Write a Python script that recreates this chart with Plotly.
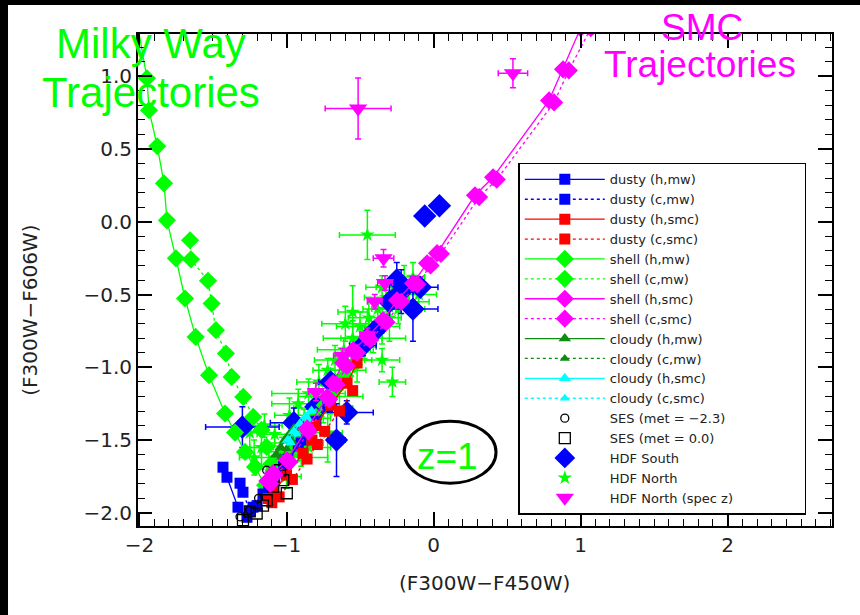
import plotly.graph_objects as go

# ---------------- data ----------------
# shell trajectories (Milky Way dust)
shell_h_mw_x = [-2.03, -1.949, -1.935, -1.879, -1.833, -1.813, -1.752, -1.690, -1.618, -1.527, -1.418, -1.350, -1.282, -1.214, -1.146, -1.10, -1.02, -0.93, -0.84, -0.74, -0.64, -0.54]
shell_h_mw_y = [1.45, 0.986, 0.766, 0.519, 0.264, 0.010, -0.251, -0.527, -0.791, -1.054, -1.317, -1.448, -1.581, -1.684, -1.810, -1.80, -1.67, -1.53, -1.40, -1.26, -1.12, -0.98]
shell_c_mw_x = [-1.656, -1.650, -1.534, -1.509, -1.480, -1.412, -1.373, -1.294, -1.226, -1.17, -1.135, -1.10, -1.06, -0.98, -0.89, -0.80, -0.70, -0.60]
shell_c_mw_y = [-0.127, -0.258, -0.405, -0.562, -0.745, -0.905, -1.066, -1.203, -1.341, -1.43, -1.547, -1.66, -1.72, -1.60, -1.47, -1.34, -1.20, -1.06]
# shell trajectories (SMC dust)
shell_h_smc_x = [1.00, 0.881, 0.786, 0.405, 0.282, 0.024, -0.044, -0.139, -0.248, -0.343, -0.452, -0.547, -0.615, -0.683, -0.724, -0.86, -0.997, -1.092, -1.13]
shell_h_smc_y = [1.33, 1.047, 0.834, 0.306, 0.182, -0.216, -0.285, -0.422, -0.539, -0.676, -0.793, -0.882, -0.971, -1.109, -1.205, -1.42, -1.638, -1.727, -1.78]
shell_c_smc_x = [1.07, 0.92, 0.82, 0.43, 0.31, 0.05, -0.02, -0.11, -0.22, -0.32, -0.43, -0.52, -0.59, -0.66, -0.71, -0.85, -0.98, -1.08, -1.11]
shell_c_smc_y = [1.33, 1.04, 0.82, 0.29, 0.17, -0.22, -0.30, -0.43, -0.55, -0.69, -0.81, -0.90, -0.99, -1.12, -1.22, -1.44, -1.65, -1.74, -1.80]
# dusty trajectories
dusty_h_mw_x = [-1.432, -1.405, -1.33, -1.269, -1.20, -1.12, -1.02, -0.92, -0.82, -0.72]
dusty_h_mw_y = [-1.686, -1.755, -1.961, -2.030, -1.95, -1.83, -1.68, -1.54, -1.40, -1.27]
dusty_c_mw_x = [-1.316, -1.296, -1.25, -1.228, -1.16, -1.08, -0.99, -0.90, -0.80]
dusty_c_mw_y = [-1.796, -1.858, -1.99, -1.961, -1.87, -1.76, -1.63, -1.50, -1.37]
dusty_h_smc_x = [-1.124, -1.092, -1.00, -0.888, -0.827, -0.806, -0.70, -0.588, -0.52]
dusty_h_smc_y = [-1.901, -1.86, -1.74, -1.59, -1.50, -1.40, -1.26, -1.109, -0.97]
dusty_c_smc_x = [-1.10, -1.05, -0.96, -0.86, -0.79, -0.74, -0.64, -0.55]
dusty_c_smc_y = [-1.93, -1.89, -1.77, -1.63, -1.53, -1.44, -1.30, -1.16]
# cloudy trajectories
cloudy_h_mw_x = [-1.07, -1.04, -1.01, -0.98, -0.95]
cloudy_h_mw_y = [-1.60, -1.55, -1.50, -1.46, -1.42]
cloudy_c_mw_x = [-1.04, -1.00, -0.96, -0.93]
cloudy_c_mw_y = [-1.62, -1.56, -1.51, -1.47]
cloudy_h_smc_x = [-0.99, -0.95, -0.91, -0.87, -0.83]
cloudy_h_smc_y = [-1.50, -1.44, -1.39, -1.34, -1.30]
cloudy_c_smc_x = [-0.97, -0.93, -0.89, -0.85]
cloudy_c_smc_y = [-1.52, -1.46, -1.41, -1.36]
# starburst models
ses_low_x = [-1.316, -1.25, -1.19, -1.135, -1.08, -1.02]
ses_low_y = [-2.027, -1.98, -1.90, -1.707, -1.78, -1.68]
ses_sol_x = [-1.296, -1.203, -1.135, -1.09, -1.022, -0.998, -1.044, -1.25, -1.16]
ses_sol_y = [-2.05, -2.004, -1.913, -1.82, -1.775, -1.865, -1.707, -1.99, -1.95]
# HDF South
hdfs_x = [-1.30, -0.14, -0.06, 0.04, -0.59, -0.95, -0.66, -0.30, -0.22, -0.40, -0.48, -0.70, -0.80, -0.25, -0.09]
hdfs_y = [-1.41, -0.60, 0.04, 0.11, -1.31, -1.38, -1.50, -0.55, -0.48, -0.75, -0.85, -1.10, -1.27, -0.40, -0.45]
hdfs_ex = [0.25, 0.17, 0.03, 0.03, 0.18, 0.16, 0.06, 0.10, 0.08, 0.06, 0.09, 0.08, 0.06, 0.05, 0.12]
hdfs_ey = [0.14, 0.22, 0.03, 0.03, 0.08, 0.10, 0.25, 0.12, 0.15, 0.06, 0.07, 0.05, 0.08, 0.12, 0.05]
# HDF North
hdfn_x = [-0.45, -0.28, -1.22, -1.17, -1.12, -1.08, -1.03, -0.98, -0.95, -0.92, -0.88, -0.85, -0.82, -0.78, -0.75, -0.72,
          -0.70, -0.67, -0.64, -0.61, -0.58, -0.55, -0.52, -0.50, -0.47, -0.44, -0.41, -0.38, -0.35, -0.32, -0.30, -0.27,
          -0.24, -0.20, -0.17, -0.14, -0.10, -0.35, -0.85, -1.00, -0.90, -0.72, -0.35, -1.25, -1.15, -0.60, -0.55]
hdfn_y = [-0.09, -1.10, -1.62, -1.55, -1.68, -1.46, -1.58, -1.33, -1.52, -1.25, -1.44, -1.18, -1.35, -1.10, -1.28, -1.02,
          -1.20, -0.95, -1.12, -0.88, -1.02, -0.80, -0.95, -0.72, -0.86, -0.66, -0.80, -0.60, -0.72, -0.52, -0.66, -0.45,
          -0.60, -0.42, -0.55, -0.38, -0.50, -0.95, -1.55, -1.75, -1.62, -1.45, -0.45, -1.45, -1.40, -0.70, -0.62]
hdfn_ex = [0.19, 0.09, 0.10, 0.08, 0.06, 0.12, 0.15, 0.10, 0.20, 0.18, 0.08, 0.25, 0.12, 0.15, 0.20, 0.10,
           0.22, 0.14, 0.08, 0.18, 0.12, 0.20, 0.10, 0.16, 0.08, 0.14, 0.22, 0.10, 0.12, 0.15, 0.08, 0.12,
           0.18, 0.10, 0.14, 0.08, 0.12, 0.12, 0.15, 0.10, 0.18, 0.10, 0.11, 0.08, 0.12, 0.16, 0.10]
hdfn_ey = [0.17, 0.10, 0.12, 0.15, 0.10, 0.08, 0.10, 0.12, 0.08, 0.10, 0.15, 0.10, 0.06, 0.12, 0.10, 0.08,
           0.12, 0.10, 0.18, 0.08, 0.10, 0.12, 0.15, 0.10, 0.08, 0.14, 0.10, 0.08, 0.12, 0.10, 0.16, 0.08,
           0.10, 0.12, 0.08, 0.10, 0.12, 0.08, 0.06, 0.08, 0.06, 0.20, 0.08, 0.10, 0.08, 0.12, 0.18]
# HDF North with spectroscopic redshift
hdfz_x = [-0.513, 0.54, -0.34, -0.33, -0.40, -0.62, -0.80, -0.45]
hdfz_y = [0.778, 1.02, -0.25, -0.42, -0.55, -0.92, -1.17, -0.78]
hdfz_ex = [0.224, 0.10, 0.07, 0.05, 0.05, 0.06, 0.05, 0.05]
hdfz_ey = [0.21, 0.10, 0.06, 0.05, 0.05, 0.05, 0.06, 0.05]

x_ticks = [-2, -1, 0, 1, 2]
y_ticks = [-2.0, -1.5, -1.0, -0.5, 0.0, 0.5, 1.0]

BLUE, RED, GREEN, MAG, DGREEN, CYAN = "#0000FF", "#FF0000", "#00FF00", "#FF00FF", "#108A10", "#00FFFF"
TICKFONT = dict(family="DejaVu Sans", size=20, color="#222222")
PAD = "\u00a0" * 16  # widens the legend box to the original's size

fig = go.Figure()

def err(arr, color):
    return dict(type="data", array=arr, color=color, thickness=1.5, width=3)

# draw order (bottom to top), legend order set by legendrank
fig.add_trace(go.Scatter(x=hdfn_x, y=hdfn_y, mode="markers", name="HDF North", legendrank=16,
                         marker=dict(symbol="star", size=11, color=GREEN),
                         error_x=err(hdfn_ex, GREEN), error_y=err(hdfn_ey, GREEN)))
fig.add_trace(go.Scatter(x=hdfs_x, y=hdfs_y, mode="markers", name="HDF South", legendrank=15,
                         marker=dict(symbol="diamond", size=18, color=BLUE),
                         error_x=err(hdfs_ex, BLUE), error_y=err(hdfs_ey, BLUE)))

def traj(x, y, name, color, dash, symbol, size, rank):
    fig.add_trace(go.Scatter(x=x, y=y, mode="lines+markers", name=name, legendrank=rank,
                             line=dict(color=color, width=1.3, dash=dash),
                             marker=dict(symbol=symbol, size=size, color=color)))

traj(shell_h_mw_x, shell_h_mw_y, "shell (h,mw)", GREEN, "solid", "diamond", 14, 5)
traj(shell_c_mw_x, shell_c_mw_y, "shell (c,mw)", GREEN, "dot", "diamond", 14, 6)
traj(dusty_h_mw_x, dusty_h_mw_y, "dusty (h,mw)", BLUE, "solid", "square", 11, 1)
traj(dusty_c_mw_x, dusty_c_mw_y, "dusty (c,mw)", BLUE, "dot", "square", 11, 2)
traj(dusty_h_smc_x, dusty_h_smc_y, "dusty (h,smc)", RED, "solid", "square", 11, 3)
traj(dusty_c_smc_x, dusty_c_smc_y, "dusty (c,smc)", RED, "dot", "square", 11, 4)
traj(cloudy_h_mw_x, cloudy_h_mw_y, "cloudy (h,mw)", DGREEN, "solid", "triangle-up", 11, 9)
traj(cloudy_c_mw_x, cloudy_c_mw_y, "cloudy (c,mw)", DGREEN, "dot", "triangle-up", 9, 10)
traj(cloudy_h_smc_x, cloudy_h_smc_y, "cloudy (h,smc)", CYAN, "solid", "triangle-up", 11, 11)
traj(cloudy_c_smc_x, cloudy_c_smc_y, "cloudy (c,smc)", CYAN, "dot", "triangle-up", 9, 12)

fig.add_trace(go.Scatter(x=ses_low_x, y=ses_low_y, mode="markers", name="SES (met = \u22122.3)", legendrank=13,
                         marker=dict(symbol="circle-open", size=8, color="black", line=dict(width=1.3))))
fig.add_trace(go.Scatter(x=ses_sol_x, y=ses_sol_y, mode="markers", name="SES (met = 0.0)", legendrank=14,
                         marker=dict(symbol="square-open", size=11, color="black", line=dict(width=1.3))))

traj(shell_h_smc_x, shell_h_smc_y, "shell (h,smc)", MAG, "solid", "diamond", 14, 7)
traj(shell_c_smc_x, shell_c_smc_y, "shell (c,smc)", MAG, "dot", "diamond", 14, 8)

fig.add_trace(go.Scatter(x=hdfz_x, y=hdfz_y, mode="markers", name="HDF North (spec z)" + PAD, legendrank=17,
                         marker=dict(symbol="triangle-down", size=16, color=MAG),
                         error_x=err(hdfz_ex, MAG), error_y=err(hdfz_ey, MAG)))

axis_common = dict(showline=True, linewidth=2, linecolor="black", mirror="ticks", ticks="inside",
                   ticklen=14, tickwidth=1.5, tickcolor="black", showgrid=False, zeroline=False,
                   tickfont=TICKFONT)

fig.update_xaxes(range=[-2.01, 2.71], tickvals=x_ticks, ticktext=[("\u2212" if v < 0 else "") + str(abs(v)) for v in x_ticks],
                 minor=dict(dtick=0.1, tick0=0, ticks="inside", ticklen=7, tickwidth=1.2, tickcolor="black", showgrid=False),
                 **axis_common)
fig.update_yaxes(range=[-2.09, 1.29], tickvals=y_ticks,
                 ticktext=[("\u2212" if v < 0 else "") + f"{abs(v):.1f}" for v in y_ticks],
                 minor=dict(dtick=0.1, tick0=0, ticks="inside", ticklen=7, tickwidth=1.2, tickcolor="black", showgrid=False),
                 **axis_common)

# z=1 ellipse
fig.add_shape(type="circle", xref="x", yref="y", x0=-0.20, x1=0.425, y0=-1.796, y1=-1.370,
              line=dict(color="black", width=3))

# black frame strips of the original figure
fig.add_shape(type="rect", xref="paper", yref="paper", x0=-0.2, x1=-0.1873, y0=-0.2, y1=1.1,
              fillcolor="black", line=dict(width=0), layer="above")
fig.add_shape(type="rect", xref="paper", yref="paper", x0=-0.2, x1=1.1, y0=1.0589, y1=1.1,
              fillcolor="black", line=dict(width=0), layer="above")

ann_family = "Liberation Sans, Arial, sans-serif"
annotations = [
    dict(text="Milky Way", x=0.0187, y=0.9817, size=42, color=GREEN),
    dict(text="Trajectories", x=0.0187, y=0.882, size=42, color=GREEN),
    dict(text="SMC", x=0.8127, y=1.0122, size=37, color=MAG),
    dict(text="Trajectories", x=0.8098, y=0.937, size=37, color=MAG),
]
for a in annotations:
    fig.add_annotation(text=a["text"], xref="paper", yref="paper", x=a["x"], y=a["y"],
                       xanchor="center", yanchor="middle", showarrow=False,
                       font=dict(family=ann_family, size=a["size"], color=a["color"]))
fig.add_annotation(text="z=1", xref="x", yref="y", x=0.095, y=-1.61, showarrow=False,
                   xanchor="center", yanchor="middle",
                   font=dict(family=ann_family, size=37, color=GREEN))
# axis titles
fig.add_annotation(text="(F300W\u2212F450W)", xref="paper", yref="paper", x=0.499, y=-0.116,
                   showarrow=False, xanchor="center", yanchor="middle", font=TICKFONT)
fig.add_annotation(text="(F300W\u2212F606W)", xref="paper", yref="paper", x=-0.156, y=0.439,
                   showarrow=False, xanchor="center", yanchor="middle", textangle=-90, font=TICKFONT)

fig.update_layout(
    width=860, height=615,
    margin=dict(l=138, r=28, t=34, b=89),
    paper_bgcolor="white", plot_bgcolor="white",
    showlegend=True,
    legend=dict(x=0.548, y=0.738, xanchor="left", yanchor="top", bgcolor="white",
                bordercolor="black", borderwidth=1.5,
                font=dict(family="DejaVu Sans", size=13, color="#222222"),
                tracegroupgap=0, itemsizing="trace", itemwidth=80),
)

fig.write_html("out.html", config={"displayModeBar": False},
               post_script="document.body.style.margin='0';document.body.style.overflow='hidden';"
                           "document.documentElement.style.overflow='hidden';"
                           "document.documentElement.style.background='white';"
                           "document.body.style.background='white';")
